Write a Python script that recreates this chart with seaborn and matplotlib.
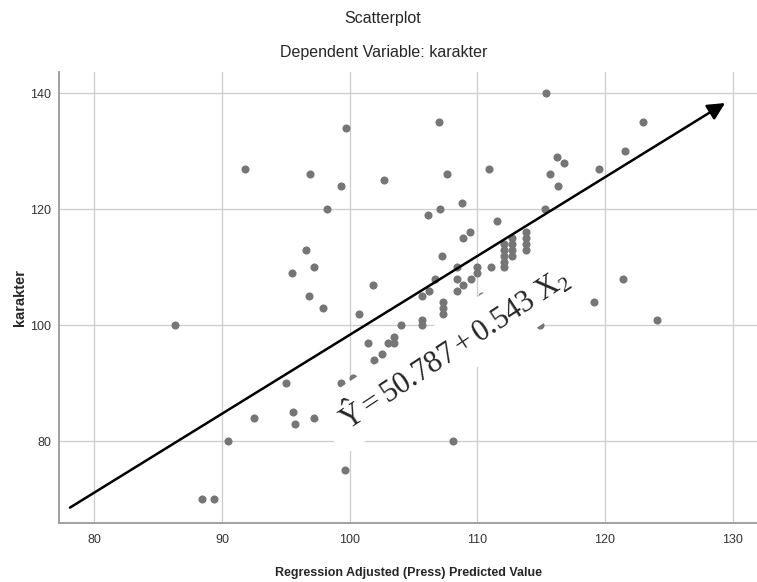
### scatterplot of karakter against regression adjusted (press) predicted value
#   spss-style chart with a hand-drawn regression arrow and equation

# import statements
import matplotlib
matplotlib.use('Agg')
from matplotlib import font_manager
import matplotlib.pyplot as plt
import pandas as pd
import seaborn as sns

predicted = [86.3, 95.0, 92.5, 95.6, 95.7, 90.5, 88.4, 89.4, 91.8, 95.5,
             99.7, 107.0, 96.9, 102.7, 107.6, 110.9, 99.3, 98.2, 106.1, 107.1,
             108.8, 111.5, 109.4, 108.9, 96.6, 97.2, 107.2,
             112.1, 112.1, 112.1, 112.1, 112.1,
             112.7, 112.7, 112.7, 112.7,
             113.8, 113.8, 113.8, 113.8,
             111.1, 110.0, 110.0, 109.5, 108.9, 108.4, 108.4, 108.4,
             106.7, 106.2, 105.7, 107.3, 107.3, 107.3, 101.8, 96.8, 97.9,
             100.7, 105.7, 105.7, 104.0, 103.5, 103.5, 103.0, 101.4, 102.5,
             101.9, 100.3, 99.3, 97.2, 108.1, 99.6,
             115.4, 123.0, 121.6, 119.5, 116.2, 116.8, 115.7, 116.3, 115.3,
             121.4, 119.1, 124.1, 110.4, 114.9]
karakter  = [100, 90, 84, 85, 83, 80, 70, 70, 127, 109,
             134, 135, 126, 125, 126, 127, 124, 120, 119, 120,
             121, 118, 116, 115, 113, 110, 112,
             114, 113, 112, 111, 110,
             115, 114, 113, 112,
             116, 115, 114, 113,
             110, 110, 109, 108, 107, 110, 108, 106,
             108, 106, 105, 104, 103, 102, 107, 105, 103,
             102, 101, 100, 100, 98, 97, 97, 97, 95,
             94, 91, 90, 84, 80, 75,
             140, 135, 130, 127, 129, 128, 126, 124, 120,
             108, 104, 101, 105, 100]

# axis ticks
x_ticks = [80, 90, 100, 110, 120, 130]
y_ticks = [80, 100, 120, 140]

# drawn arrow and the equation pasted on top of the chart
arrow_start = (78.1, 68.6)
arrow_end   = (129.4, 138.3)
equation    = r'$\mathrm{\ \hat{Y} = 50.787 + 0.543\ X_2\ }$'
eq_pos      = (107.9, 95.8)

df = pd.DataFrame({'predicted': predicted, 'karakter': karakter})

# style
sns.set_style('white')
names = {f.name for f in font_manager.fontManager.ttflist}
narrow = 'Liberation Sans Narrow' if 'Liberation Sans Narrow' in names \
         else 'Liberation Sans'
plt.rcParams['font.family'] = [narrow, 'DejaVu Sans']
plt.rcParams['mathtext.fontset'] = 'custom'
plt.rcParams['mathtext.rm'] = 'Liberation Serif'
plt.rcParams['mathtext.it'] = 'Liberation Serif:italic'

fig = plt.figure(figsize = (7.57, 5.82), dpi = 100)
ax = fig.add_axes([0.0783, 0.1019, 0.9217, 0.7749])

# points
sns.scatterplot(data = df, x = 'predicted', y = 'karakter', ax = ax,
                color = '#767676', s = 34, linewidth = 0, zorder = 2)

# axes
ax.set_xlim(77.26, 131.9)
ax.set_ylim(66.0, 143.7)
ax.set_xticks(x_ticks)
ax.set_yticks(y_ticks)
ax.grid(True, color = '#cccccc', linewidth = 0.9)
ax.set_axisbelow(True)
ax.tick_params(length = 0, labelsize = 9, colors = '#333333')
ax.tick_params(axis = 'x', pad = 8)
ax.tick_params(axis = 'y', pad = 6)
for side in ['top', 'right']:
    ax.spines[side].set_visible(False)
for side in ['left', 'bottom']:
    ax.spines[side].set_color('#9a9a9a')
    ax.spines[side].set_linewidth(1.3)

ax.set_xlabel('Regression Adjusted (Press) Predicted Value', fontsize = 9,
              fontweight = 'bold', labelpad = 15)
ax.set_ylabel('karakter', fontsize = 10.5, fontweight = 'bold',
              family = ['Liberation Sans', 'DejaVu Sans'], labelpad = 2)

# titles
fig.text(0.505, 0.968, 'Scatterplot', ha = 'center', va = 'center',
         fontsize = 11.5)
fig.text(0.507, 0.91, 'Dependent Variable: karakter', ha = 'center',
         va = 'center', fontsize = 11.5)

# equation on a white patch, then the arrow
ax.text(eq_pos[0], eq_pos[1], equation, fontsize = 22, rotation = 33.5,
        rotation_mode = 'anchor', ha = 'center', va = 'center', zorder = 4,
        bbox = dict(boxstyle = 'square,pad=0.33', fc = 'white', ec = 'none'))
ax.annotate('', xy = arrow_end, xytext = arrow_start, zorder = 5,
            arrowprops = dict(arrowstyle = '-|>', color = 'black', lw = 1.8,
                              mutation_scale = 26, shrinkA = 0, shrinkB = 0))

fig.savefig('out.png', dpi = 100)
